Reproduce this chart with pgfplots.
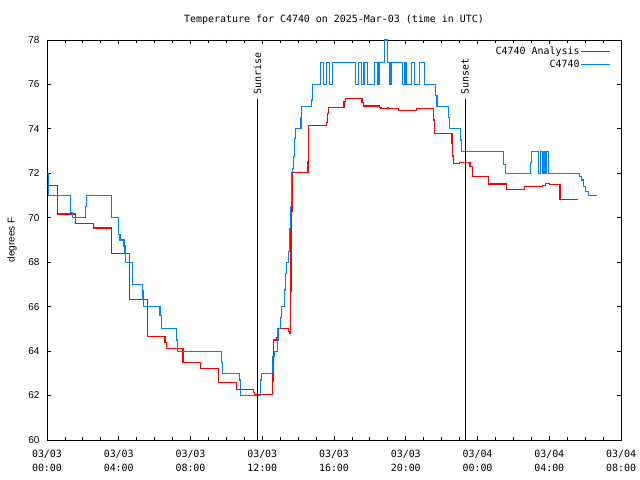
\documentclass[border=0pt]{standalone}
\usepackage{fontspec}
\setmainfont{Liberation Sans}
\newfontfamily\monofont{DejaVu Sans Mono}
\usepackage{pgfplots}
\usepackage{pgfplotstable}
\pgfplotsset{compat=1.18}
\definecolor{obsblue}{RGB}{0,128,255}
\definecolor{anared}{RGB}{255,0,0}
% hours since 03/03 00:00 UTC, degrees F
\pgfplotstableread{
h T
0 71.44
0.58 70.17
1.58 69.75
2.58 69.54
3.58 68.4
4.58 67.38
4.62 66.33
5.58 64.66
6.58 64.38
6.65 64.12
7.58 63.48
8.58 63.22
9.58 62.58
10.58 62.28
11.5 62.13
11.58 62.05
12.56 62.65
12.6 63.75
12.65 64.5
12.78 64.6
12.85 65.0
13.45 64.9
13.52 64.8
13.56 66.67
13.6 70.27
13.66 72.04
14.55 72.52
14.6 74.14
15.57 74.3
15.62 74.7
15.68 74.95
16.56 75.22
16.65 75.37
17.56 75.2
17.62 75.03
18.55 74.97
18.62 74.9
19.0 74.96
19.05 74.91
19.6 74.82
20.6 74.91
21.56 74.4
21.62 73.8
22.58 73.35
22.62 72.78
22.68 72.45
23.0 72.5
23.58 72.3
23.7 71.85
24.62 71.52
25.62 71.28
26.62 71.4
27.6 71.45
27.8 71.55
28.0 71.5
28.6 70.83
29.62 70.83
}\analysis
\pgfplotstableread{
h T
0 72
0.07 71
1.32 70.25
1.41 70
2.16 70.5
2.22 71
3.61 70
3.97 69.75
4.01 69.25
4.07 69.0
4.29 68.73
4.35 68.4
4.40 68.0
4.75 67.5
4.79 67.0
5.31 66.72
5.35 66.33
5.39 66.0
6.30 65.6
6.38 65.0
7.24 64.5
7.30 64.0
9.74 63.5
9.79 63.0
10.72 62.7
10.78 62.0
11.91 62.7
11.97 63.0
12.56 63.2
12.58 63.75
12.68 64.0
12.84 64.5
12.88 65.0
13.03 65.5
13.06 66.0
13.23 66.3
13.26 66.75
13.30 67.5
13.37 68.0
13.46 68.5
13.52 69.5
13.58 70.5
13.64 72.0
13.70 72.2
13.74 72.75
13.80 73.58
13.86 74.0
14.16 74.5
14.2 75.0
14.75 75.3
14.78 75.7
14.82 76.0
15.27 77
15.40 76
15.59 77
15.77 76
15.90 77
17.22 76
17.39 77
17.54 76
17.67 77
17.89 76
18.24 77
18.45 76
18.51 77
18.80 78
18.98 77
19.12 76
19.18 77
19.80 76
19.96 77
20.05 76
20.33 77
20.51 76
20.75 77
21.03 76
21.66 75.5
21.74 75
22.40 74.5
22.46 74
23.05 73.5
23.12 73
25.43 72.4
25.55 72
26.97 72.5
27.0 73
27.42 72
27.52 73
27.61 72
27.70 73
27.76 72
27.85 73
27.94 72
29.71 71.85
29.8 71.7
29.9 71.4
30.0 71.2
30.17 71.0
30.67 71.0
}\observed
\begin{document}
\begin{tikzpicture}
\path[use as bounding box] (-47bp,-40bp) rectangle (593bp,440bp);
\begin{axis}[
  at={(0,0)}, anchor=south west,
  scale only axis, width=574bp, height=400bp,
  xmin=0, xmax=32, ymin=60, ymax=78,
  xtick={0,4,...,32}, minor x tick num=3,
  ytick={60,62,...,78},
  xticklabels={{03/03\\00:00},{03/03\\04:00},{03/03\\08:00},{03/03\\12:00},{03/03\\16:00},{03/03\\20:00},{03/04\\00:00},{03/04\\04:00},{03/04\\08:00}},
  xticklabel style={font=\monofont\fontsize{10}{14}\selectfont, align=center, yshift=-7bp},
  yticklabel style={font=\fontsize{10}{12}\selectfont, xshift=-4bp},
  /pgf/number format/assume math mode=true,
  major tick length=4.5bp, minor tick length=3bp,
  tick style={black, line width=0.8bp},
  axis line style={line width=0.8bp},
  title={Temperature for C4740 on 2025-Mar-03 (time in UTC)},
  title style={font=\monofont\fontsize{10}{12}\selectfont, at={(axis description cs:0.5,1)}, anchor=center, yshift=14bp},
  ylabel={degrees F},
  every axis y label/.style={at={(axis description cs:-0.061,0.5)}, rotate=90, anchor=center, font=\fontsize{10}{12}\selectfont},
  legend style={at={(axis description cs:1,1)}, anchor=north east, xshift=-10bp, yshift=-6bp, draw=none, fill=none, font=\monofont\fontsize{10}{12}\selectfont, inner sep=0pt, row sep=1.5bp, nodes={inner sep=1bp}},
  legend plot pos=right,
  legend cell align=right,
  legend image code/.code={\draw[#1] (12bp,0bp) -- (41bp,0bp);},
]
\addplot[const plot, anared, line width=1.1bp] table[x=h, y=T] {\analysis};
\addlegendentry{C4740 Analysis}
\addplot[const plot, obsblue, line width=1.1bp] table[x=h, y=T] {\observed};
\addlegendentry{C4740}
\addplot[black, line width=0.8bp, forget plot] coordinates {(11.73,60) (11.73,75.35)};
\addplot[black, line width=0.8bp, forget plot] coordinates {(23.30,60) (23.30,75.35)};
\node[rotate=90, anchor=west, font=\monofont\fontsize{10}{12}\selectfont, inner sep=0pt] at (axis cs:11.73,75.55) {Sunrise};
\node[rotate=90, anchor=west, font=\monofont\fontsize{10}{12}\selectfont, inner sep=0pt] at (axis cs:23.30,75.55) {Sunset};
\end{axis}
\end{tikzpicture}
\end{document}
